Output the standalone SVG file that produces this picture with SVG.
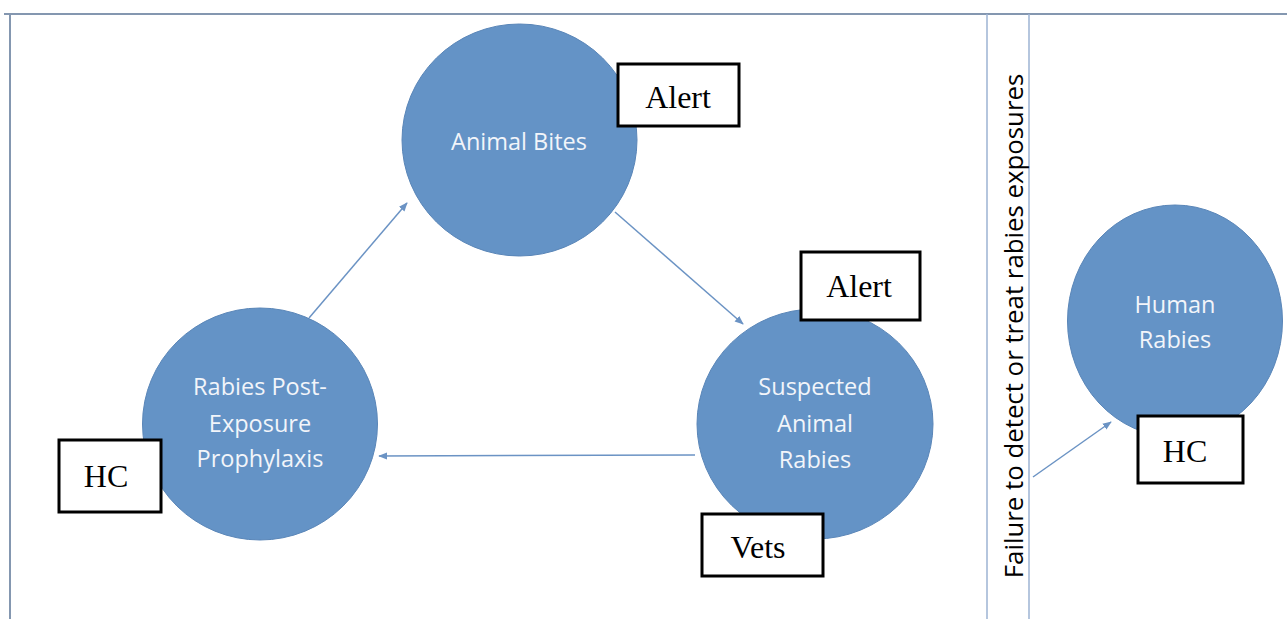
<svg xmlns="http://www.w3.org/2000/svg" width="1287" height="619" viewBox="0 0 1287 619">
<defs>
<style>
.frame{stroke:#8497b0;stroke-width:2;fill:none}
.band{stroke:#9db4d4;stroke-width:1.5;fill:none}
.node{fill:#6493c6;stroke:#5a86b8;stroke-width:1}
.nt{font-family:"Open Sans","Noto Sans",sans-serif;font-size:23.5px;fill:#f2f5fa;text-anchor:middle}
.box{fill:#fff;stroke:#000;stroke-width:3}
.bt{font-family:"Liberation Serif","Times New Roman",serif;font-size:32px;fill:#000;text-anchor:middle}
.conn{stroke:#6b93c4;stroke-width:1.5;fill:none;marker-end:url(#ah)}
.vt{font-family:"Open Sans","Noto Sans",sans-serif;font-size:25.8px;fill:#000;text-anchor:middle}
</style>
<marker id="ah" viewBox="0 0 10 10" refX="9" refY="5" markerWidth="6" markerHeight="6" orient="auto" markerUnits="strokeWidth">
<path d="M0,1 L10,5 L0,9 z" fill="#6b93c4"/>
</marker>
</defs>
<rect width="1287" height="619" fill="#fff"/>
<g id="frame">
<path class="frame" d="M4,14 H1287 M10,14 V619"/>
<path class="band" d="M987,14 V619 M1029,14 V619"/>
</g>
<g id="connectors">
<line class="conn" x1="309" y1="318" x2="407" y2="203"/>
<line class="conn" x1="615" y1="212" x2="743" y2="324"/>
<line class="conn" x1="695" y1="455" x2="379" y2="456"/>
<line class="conn" x1="1033" y1="477" x2="1111" y2="422"/>
</g>
<g id="failure-label">
<text class="vt" transform="translate(1023,326) rotate(-90)">Failure to detect or treat rabies exposures</text>
</g>
<g id="animal-bites">
<ellipse class="node" cx="519.5" cy="140" rx="117.5" ry="116"/>
<text class="nt" x="519" y="150">Animal Bites</text>
</g>
<g id="alert-1">
<rect class="box" x="618" y="64" width="121" height="62"/>
<text class="bt" x="678" y="108">Alert</text>
</g>
<g id="suspected-animal-rabies">
<ellipse class="node" cx="815" cy="424" rx="118" ry="115"/>
<text class="nt" x="815" y="395">Suspected</text>
<text class="nt" x="815" y="432">Animal</text>
<text class="nt" x="815" y="468">Rabies</text>
</g>
<g id="alert-2">
<rect class="box" x="801" y="252" width="119" height="68"/>
<text class="bt" x="859" y="297">Alert</text>
</g>
<g id="vets">
<rect class="box" x="702" y="514" width="121" height="62"/>
<text class="bt" x="758" y="558">Vets</text>
</g>
<g id="rabies-pep">
<ellipse class="node" cx="260" cy="424" rx="117.5" ry="116"/>
<text class="nt" x="260" y="395">Rabies Post-</text>
<text class="nt" x="260" y="432">Exposure</text>
<text class="nt" x="260" y="467">Prophylaxis</text>
</g>
<g id="hc-1">
<rect class="box" x="59" y="440" width="102" height="72"/>
<text class="bt" x="106" y="487">HC</text>
</g>
<g id="human-rabies">
<ellipse class="node" cx="1175" cy="321" rx="107.5" ry="116"/>
<text class="nt" x="1175" y="313">Human</text>
<text class="nt" x="1175" y="348">Rabies</text>
</g>
<g id="hc-2">
<rect class="box" x="1138" y="416" width="105" height="67"/>
<text class="bt" x="1185" y="462">HC</text>
</g>
</svg>
